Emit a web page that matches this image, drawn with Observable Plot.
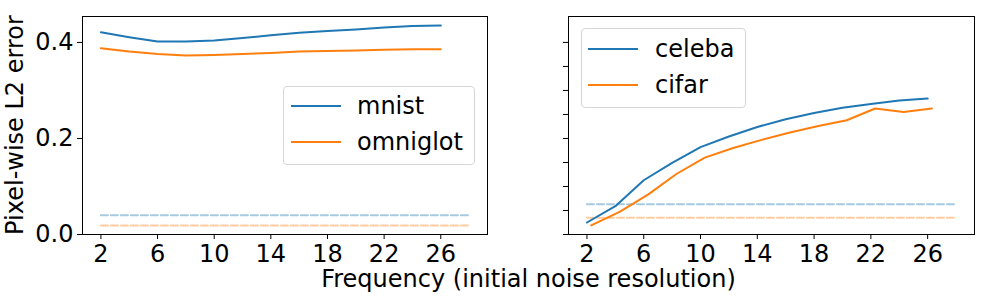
<!DOCTYPE html>
<html>
<head>
<meta charset="utf-8">
<script src="https://cdn.jsdelivr.net/npm/d3@7"></script>
<script src="https://cdn.jsdelivr.net/npm/@observablehq/plot@0.6"></script>
<style>
  html, body { margin: 0; padding: 0; background: #fff; }
  #wrap { position: relative; width: 999px; height: 300px; overflow: hidden; font-family: "DejaVu Sans", sans-serif; color: #000; }
  .panel { position: absolute; top: 0; }
  .txt { position: absolute; font-size: 24px; line-height: 18px; white-space: nowrap; }
  .legend { position: absolute; border: 1px solid #d6d6d6; border-radius: 4px; background: rgba(255,255,255,0.8); box-sizing: border-box; }
  .legline { position: absolute; height: 0; border-top: 2px solid; }
</style>
</head>
<body>
<div id="wrap"></div>
<script>
// ---- data ----
const freq = [2, 4, 6, 8, 10, 12, 14, 16, 18, 20, 22, 24, 26];
const cifarFreq = [2.3, 4.3, 6.3, 8.3, 10.3, 12.3, 14.3, 16.3, 18.3, 20.3, 22.3, 24.3, 26.3];
const mnist    = [0.421, 0.411, 0.402, 0.402, 0.404, 0.409, 0.415, 0.420, 0.424, 0.427, 0.431, 0.434, 0.435];
const omniglot = [0.388, 0.381, 0.376, 0.373, 0.374, 0.376, 0.378, 0.381, 0.382, 0.383, 0.385, 0.386, 0.386];
const celeba   = [0.025, 0.059, 0.113, 0.149, 0.182, 0.204, 0.224, 0.240, 0.253, 0.264, 0.272, 0.279, 0.283];
const cifar    = [0.019, 0.047, 0.083, 0.126, 0.160, 0.180, 0.197, 0.2125, 0.226, 0.238, 0.2625, 0.255, 0.2625];
const baselineSpan = [2, 28];
const leftBaselines = [0.040, 0.019];   // mnist, omniglot
const rightBaselines = [0.063, 0.035];  // celeba, cifar
const leftSeries = ["mnist", "omniglot"];
const rightSeries = ["celeba", "cifar"];
const xTicks = [2, 6, 10, 14, 18, 22, 26];
const yTicksLeft = [0.0, 0.2, 0.4];
const yTicksRight = [0, 0.05, 0.1, 0.15, 0.2, 0.25, 0.3, 0.35, 0.4];
const xLabel = "Frequency (initial noise resolution)";
const yLabel = "Pixel-wise L2 error";

const colors = ["#1f77b4", "#ff7f0e"];
const xDomain = [0.7, 29.3];
const yDomain = [0, 0.454];

function seriesRows(name, xs, ys) { return xs.map((x, i) => ({name, x, y: ys[i]})); }
function baseRows(name, v) { return baselineSpan.map(x => ({name, x, y: v})); }

function panel(opts) {
  const marks = [Plot.frame({stroke: "black", strokeWidth: 1})];
  opts.base.forEach((rows, i) => marks.push(Plot.line(rows, {x: "x", y: "y", stroke: colors[i], strokeOpacity: 0.4, strokeWidth: 2, strokeDasharray: "7,3"})));
  opts.lines.forEach((rows, i) => marks.push(Plot.line(rows, {x: "x", y: "y", stroke: colors[i], strokeWidth: 2})));
  return Plot.plot({
    width: opts.width, height: 300,
    marginLeft: opts.ml, marginRight: opts.mr, marginTop: 16, marginBottom: 66,
    style: {fontFamily: "DejaVu Sans", fontSize: "24px", color: "black", background: "white", overflow: "visible"},
    x: {domain: xDomain, ticks: xTicks, tickSize: 5, tickPadding: 5, label: null, tickFormat: d3.format("d")},
    y: {domain: yDomain, ticks: opts.yTicks, tickSize: 5, tickPadding: 4, label: null, tickFormat: opts.yFormat},
    marks
  });
}

const wrap = document.getElementById("wrap");

const left = panel({
  width: 500, ml: 82, mr: 13, yTicks: yTicksLeft, yFormat: d3.format(".1f"),
  lines: [seriesRows(leftSeries[0], freq, mnist), seriesRows(leftSeries[1], freq, omniglot)],
  base: [baseRows(leftSeries[0], leftBaselines[0]), baseRows(leftSeries[1], leftBaselines[1])]
});
left.classList.add("panel"); left.style.left = "0px";
wrap.appendChild(left);

const right = panel({
  width: 499, ml: 68, mr: 25, yTicks: yTicksRight, yFormat: () => "",
  lines: [seriesRows(rightSeries[0], freq, celeba), seriesRows(rightSeries[1], cifarFreq, cifar)],
  base: [baseRows(rightSeries[0], rightBaselines[0]), baseRows(rightSeries[1], rightBaselines[1])]
});
right.classList.add("panel"); right.style.left = "500px";
wrap.appendChild(right);

// baseline offset from the top of an 18px line box for 24px DejaVu Sans
const BASE = 17.3;

// legends
function legend(box, names, lineX, lineW, textX, lineYs) {
  const d = document.createElement("div");
  d.className = "legend";
  Object.assign(d.style, {left: box[0] + "px", top: box[1] + "px", width: box[2] + "px", height: box[3] + "px"});
  wrap.appendChild(d);
  names.forEach((n, i) => {
    const l = document.createElement("div");
    l.className = "legline";
    Object.assign(l.style, {left: lineX + "px", top: (lineYs[i] - 1) + "px", width: lineW + "px", borderTopColor: colors[i]});
    wrap.appendChild(l);
    const t = document.createElement("div");
    t.className = "txt";
    t.textContent = n;
    Object.assign(t.style, {left: textX + "px", top: (lineYs[i] + 8.7 - BASE) + "px"});
    wrap.appendChild(t);
  });
}
legend([283, 86, 192, 79], leftSeries, 291, 50, 357, [106, 142]);
legend([581, 28, 165, 80], rightSeries, 588, 50, 655, [49, 85]);

// axis titles
const xl = document.createElement("div");
xl.className = "txt"; xl.textContent = xLabel;
Object.assign(xl.style, {left: "0px", width: "1057px", textAlign: "center", top: (287.5 - BASE) + "px"});
wrap.appendChild(xl);

// rotated y title: box height 18 centred at cx; baseline ends at cx - 9 + BASE
const yl = document.createElement("div");
yl.className = "txt"; yl.textContent = yLabel;
const cx = 23.5 + 9 - BASE;
Object.assign(yl.style, {left: (cx - 130) + "px", width: "260px", textAlign: "center", top: (125 - 9) + "px", transform: "rotate(-90deg)"});
wrap.appendChild(yl);
</script>
</body>
</html>
